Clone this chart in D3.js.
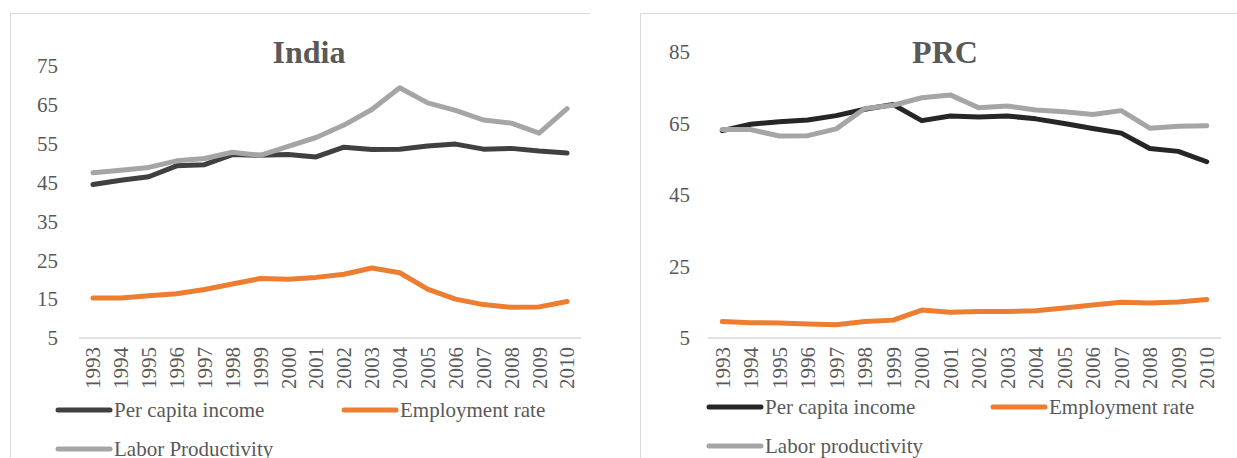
<!DOCTYPE html>
<html lang="en">
<head>
<meta charset="utf-8">
<title>India and PRC</title>
<script src="https://d3js.org/d3.v7.min.js"></script>
<style>
    body { margin: 0; background: #fff; }
    text { font-family: "Liberation Serif", "Times New Roman", serif; fill: #595959; }
</style>
</head>
<body>
<div id="chart"></div>
<script>
// Data
var years = ["1993","1994","1995","1996","1997","1998","1999","2000","2001",
             "2002","2003","2004","2005","2006","2007","2008","2009","2010"];

var indiaIncome = [44.5,45.6,46.5,49.3,49.6,52.2,52.0,52.2,51.6,54.1,53.5,53.6,54.4,54.9,53.6,53.8,53.1,52.6];
var indiaEmployment = [15.3,15.3,15.9,16.4,17.5,18.9,20.3,20.1,20.6,21.4,23.0,21.8,17.6,15.0,13.6,12.9,13.0,14.4];
var indiaProductivity = [47.5,48.2,48.9,50.6,51.2,52.8,52.0,54.3,56.6,59.8,63.8,69.4,65.5,63.6,61.1,60.3,57.7,64.0];
var indiaTicks = [5,15,25,35,45,55,65,75];

var prcIncome = [63.0,64.8,65.5,66.0,67.2,69.0,70.3,65.8,67.1,66.8,67.1,66.3,65.0,63.6,62.3,58.0,57.2,54.3];
var prcEmployment = [9.6,9.3,9.2,8.9,8.7,9.6,10.0,12.8,12.2,12.4,12.4,12.6,13.4,14.2,15.0,14.8,15.1,15.8];
var prcProductivity = [63.3,63.3,61.5,61.6,63.5,69.2,70.1,72.2,73.0,69.4,69.9,68.8,68.3,67.5,68.6,63.7,64.2,64.4];
var prcTicks = [5,25,45,65,85];

var w = 1237, h = 458;
var fontSize = "21px";

var svg = d3.select("#chart")
    .append("svg")
    .attr("width", w)
    .attr("height", h);

// draws one panel
var drawPanel = function (p) {
    var g = svg.append("g");

    // chart frame (only left and top edges are visible in the crop)
    g.append("path")
        .attr("d", "M" + p.frameX + "," + h + "V" + p.frameY + "H" + p.frameRight)
        .attr("fill", "none")
        .attr("stroke", "#d9d9d9")
        .attr("stroke-width", 1);

    var xScale = d3.scaleBand()
        .domain(years)
        .range([p.left, p.right]);

    var yScale = d3.scaleLinear()
        .domain([p.ticks[0], p.ticks[p.ticks.length - 1]])
        .range([p.bottom, p.top]);

    // title
    g.append("text")
        .attr("x", p.titleX)
        .attr("y", 63)
        .attr("text-anchor", "middle")
        .style("font-size", "32px")
        .style("font-weight", "bold")
        .text(p.title);

    // y axis labels
    var yAxis = d3.axisLeft(yScale)
        .tickValues(p.ticks)
        .tickSize(0)
        .tickPadding(0);
    var ya = g.append("g")
        .attr("transform", "translate(" + p.yLabelX + ",0)")
        .call(yAxis);
    ya.select(".domain").remove();
    ya.selectAll("text")
        .style("font-size", fontSize)
        .style("fill", "#595959")
        .style("font-family", "Liberation Serif, serif");

    // baseline
    g.append("line")
        .attr("x1", p.left)
        .attr("x2", p.right)
        .attr("y1", yScale(p.ticks[0]))
        .attr("y2", yScale(p.ticks[0]))
        .attr("stroke", "#d9d9d9")
        .attr("stroke-width", 1.5);

    // x axis labels, rotated
    var xAxis = d3.axisBottom(xScale).tickSize(0).tickPadding(0);
    var xa = g.append("g")
        .attr("transform", "translate(0," + p.bottom + ")")
        .call(xAxis);
    xa.select(".domain").remove();
    xa.selectAll("text")
        .attr("transform", "rotate(-90)")
        .attr("x", -9)
        .attr("y", 0)
        .attr("dy", "0.35em")
        .style("text-anchor", "end")
        .style("font-size", fontSize)
        .style("fill", "#595959")
        .style("font-family", "Liberation Serif, serif");

    var line = d3.line()
        .x(function (d, i) { return xScale(years[i]) + xScale.bandwidth() / 2; })
        .y(function (d) { return yScale(d); });

    p.series.forEach(function (s) {
        g.append("path")
            .datum(s.values)
            .attr("d", line)
            .attr("fill", "none")
            .attr("stroke", s.color)
            .attr("stroke-width", 5)
            .attr("stroke-linejoin", "round")
            .attr("stroke-linecap", "round");
    });

    // legend
    p.series.forEach(function (s, i) {
        var lx = p.legend[i][0], ly = p.legend[i][1];
        g.append("line")
            .attr("x1", lx)
            .attr("x2", lx + 52)
            .attr("y1", ly)
            .attr("y2", ly)
            .attr("stroke", s.color)
            .attr("stroke-width", 5)
            .attr("stroke-linecap", "round");
        g.append("text")
            .attr("x", lx + 56)
            .attr("y", ly)
            .attr("dy", "0.35em")
            .style("font-size", fontSize)
            .text(s.name);
    });
};

drawPanel({
    title: "India", titleX: 309,
    frameX: 10.5, frameY: 13.5, frameRight: 590,
    left: 79, right: 581, top: 66, bottom: 338, yLabelX: 58,
    ticks: indiaTicks,
    series: [
        { name: "Per capita income", values: indiaIncome, color: "#404040" },
        { name: "Employment rate", values: indiaEmployment, color: "#ed7d31" },
        { name: "Labor Productivity", values: indiaProductivity, color: "#a5a5a5" }
    ],
    legend: [[58, 410], [344, 410], [58, 449]]
});

drawPanel({
    title: "PRC", titleX: 945,
    frameX: 640.5, frameY: 13.5, frameRight: w,
    left: 708, right: 1221, top: 52, bottom: 338, yLabelX: 690,
    ticks: prcTicks,
    series: [
        { name: "Per capita income", values: prcIncome, color: "#262626" },
        { name: "Employment rate", values: prcEmployment, color: "#ed7d31" },
        { name: "Labor productivity", values: prcProductivity, color: "#a5a5a5" }
    ],
    legend: [[709, 407], [993, 407], [709, 446]]
});
</script>
</body>
</html>
